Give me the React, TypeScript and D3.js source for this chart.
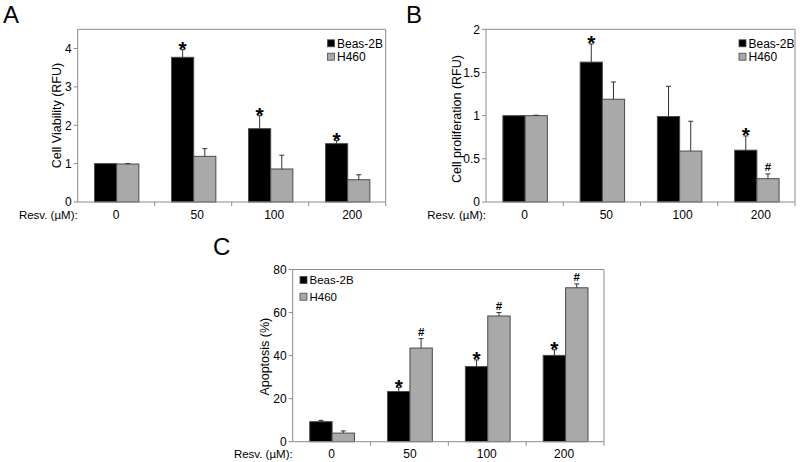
import React from 'react';
import * as d3 from 'd3';

// ---------- data ----------
const categories = ['0', '50', '100', '200'];
const seriesNames = ['Beas-2B', 'H460'];
const xAxisTitle = 'Resv. (µM):';

// Panel A: cell viability (RFU)
const viabilityBeas = [1.0, 3.77, 1.91, 1.52];
const viabilityBeasErr = [0.0, 0.2, 0.34, 0.08];
const viabilityH460 = [0.99, 1.19, 0.86, 0.58];
const viabilityH460Err = [0.01, 0.2, 0.36, 0.13];
const viabilityBeasMarks = ['', '*', '*', '*'];
const viabilityH460Marks = ['', '', '', ''];
const viabilityTicks = [0, 1, 2, 3, 4];

// Panel B: cell proliferation (RFU)
const prolifBeas = [1.0, 1.62, 0.99, 0.6];
const prolifBeasErr = [0.0, 0.21, 0.35, 0.165];
const prolifH460 = [1.0, 1.19, 0.59, 0.27];
const prolifH460Err = [0.005, 0.2, 0.345, 0.055];
const prolifBeasMarks = ['', '*', '', '*'];
const prolifH460Marks = ['', '', '', '#'];
const prolifTicks = [0, 0.5, 1, 1.5, 2];

// Panel C: apoptosis (%)
const apopBeas = [9.3, 23.3, 34.9, 40.1];
const apopBeasErr = [0.6, 1.9, 3.1, 2.6];
const apopH460 = [4.0, 43.5, 58.4, 71.5];
const apopH460Err = [1.0, 4.4, 1.6, 1.8];
const apopBeasMarks = ['', '*', '*', '*'];
const apopH460Marks = ['', '#', '#', '#'];
const apopTicks = [0, 20, 40, 60, 80];

// ---------- style ----------
const FONT = "'Liberation Sans', Arial, Helvetica, sans-serif";
const FILLS = ['#000000', '#a9a9a9'];
const OUTLINE = '#4a4a4a';
const FRAME = '#8c8c8c';
const ERR = '#333333';
const TEXT = '#000';

type Series = { values: number[]; errors: number[]; marks: string[] };

type PanelProps = {
  letter: string;
  letterX: number;
  letterY: number;
  left: number;
  top: number;
  right: number;
  bottom: number;
  yMax: number;
  yTicks: number[];
  yTitle: string;
  yTitleX: number;
  yTitleY: number;
  series: Series[];
  legendX: number;
  legendY: number;
  legendGap: number;
  legendFont: number;
  labelShift: number[];
};

function Panel(p: PanelProps) {
  const x = d3.scaleBand<string>().domain(categories).range([p.left, p.right]).padding(0);
  const y = d3.scaleLinear().domain([0, p.yMax]).range([p.bottom, p.top]);
  const bw = x.bandwidth();
  const groupW = bw * 0.575;
  const barW = groupW / 2;
  const fmt = (v: number) => String(v);

  return (
    <g>
      <text x={p.letterX} y={p.letterY} fontFamily={FONT} fontSize={24} fill={TEXT}>
        {p.letter}
      </text>
      {/* frame */}
      <line x1={p.left} x2={p.right} y1={p.top} y2={p.top} stroke={FRAME} />
      <line x1={p.right} x2={p.right} y1={p.top} y2={p.bottom} stroke={FRAME} />
      <line x1={p.left} x2={p.left} y1={p.top} y2={p.bottom} stroke={FRAME} />
      {/* y ticks */}
      {p.yTicks.map((t) => (
        <g key={'yt' + t}>
          <line x1={p.left - 4} x2={p.left} y1={y(t)} y2={y(t)} stroke={FRAME} />
          <text
            x={p.left - 6}
            y={y(t)}
            dy="0.36em"
            textAnchor="end"
            fontFamily={FONT}
            fontSize={12}
            fill={TEXT}
          >
            {fmt(t)}
          </text>
        </g>
      ))}
      <text
        transform={`translate(${p.yTitleX},${p.yTitleY}) rotate(-90)`}
        textAnchor="middle"
        dy="0.35em"
        fontFamily={FONT}
        fontSize={12.5}
        fill={TEXT}
      >
        {p.yTitle}
      </text>
      {/* bars */}
      {p.series.map((s, si) =>
        categories.map((c, ci) => {
          const x0 = (x(c) as number) + (bw - groupW) / 2 + 0.5 + si * barW;
          const v = s.values[ci];
          const e = s.errors[ci];
          const yTop = y(v);
          const yErr = y(v + e);
          const cx = x0 + barW / 2;
          const m = s.marks[ci];
          return (
            <g key={`b${si}-${ci}`}>
              <rect
                x={x0}
                y={yTop}
                width={barW}
                height={p.bottom - yTop}
                fill={FILLS[si]}
                stroke={OUTLINE}
                strokeWidth={1}
              />
              {e > 0 && (
                <g stroke={ERR} strokeWidth={1}>
                  <line x1={cx} x2={cx} y1={yTop} y2={yErr} />
                  <line x1={cx - 2.5} x2={cx + 2.5} y1={yErr} y2={yErr} />
                </g>
              )}
              {m === '*' && (
                <text
                  x={cx}
                  y={yErr + 6.5}
                  textAnchor="middle"
                  fontFamily={FONT}
                  fontWeight="bold"
                  fontSize={21}
                  fill={TEXT}
                >
                  *
                </text>
              )}
              {m === '#' && (
                <text
                  x={cx}
                  y={yErr - 2.5}
                  textAnchor="middle"
                  fontFamily={FONT}
                  fontWeight="bold"
                  fontSize={11.5}
                  fill={TEXT}
                >
                  #
                </text>
              )}
            </g>
          );
        })
      )}
      {/* x axis */}
      <line x1={p.left} x2={p.right} y1={p.bottom} y2={p.bottom} stroke={FRAME} />
      {categories.map((c) => (
        <line
          key={'xt' + c}
          x1={(x(c) as number) + bw}
          x2={(x(c) as number) + bw}
          y1={p.bottom}
          y2={p.bottom + 4}
          stroke={FRAME}
        />
      ))}
      <text
        x={p.left}
        y={p.bottom + 16.5}
        textAnchor="end"
        fontFamily={FONT}
        fontSize={11.5}
        fill={TEXT}
      >
        {xAxisTitle}
      </text>
      {categories.map((c, i) => (
        <text
          key={'xl' + c}
          x={(x(c) as number) + bw / 2 + p.labelShift[i]}
          y={p.bottom + 16.5}
          textAnchor="middle"
          fontFamily={FONT}
          fontSize={12}
          fill={TEXT}
        >
          {c}
        </text>
      ))}
      {/* legend */}
      {seriesNames.map((n, i) => (
        <g key={'lg' + n}>
          <rect
            x={p.legendX}
            y={p.legendY + i * p.legendGap - 3.5}
            width={7}
            height={7}
            fill={FILLS[i]}
            stroke={OUTLINE}
            strokeWidth={0.8}
          />
          <text
            x={p.legendX + 9.5}
            y={p.legendY + i * p.legendGap}
            dy="0.36em"
            fontFamily={FONT}
            fontSize={p.legendFont}
            fill={TEXT}
          >
            {n}
          </text>
        </g>
      ))}
    </g>
  );
}

export default function App() {
  return (
    <svg
      width={800}
      height={462}
      style={{ position: 'absolute', left: 0, top: 0, background: '#fff' }}
    >
      <rect width={800} height={462} fill="#fff" />
      <Panel
        letter="A"
        letterX={3}
        letterY={23}
        left={77.7}
        top={29.3}
        right={385.7}
        bottom={202}
        yMax={4.5}
        yTicks={viabilityTicks}
        yTitle="Cell Viability (RFU)"
        yTitleX={57}
        yTitleY={115.5}
        series={[
          { values: viabilityBeas, errors: viabilityBeasErr, marks: viabilityBeasMarks },
          { values: viabilityH460, errors: viabilityH460Err, marks: viabilityH460Marks },
        ]}
        legendX={327.5}
        legendY={43.3}
        legendGap={13.4}
        legendFont={12}
        labelShift={[0, 4, 4, 5]}
      />
      <Panel
        letter="B"
        letterX={406}
        letterY={23}
        left={486}
        top={29.3}
        right={795}
        bottom={202}
        yMax={2}
        yTicks={prolifTicks}
        yTitle="Cell proliferation (RFU)"
        yTitleX={457}
        yTitleY={119}
        series={[
          { values: prolifBeas, errors: prolifBeasErr, marks: prolifBeasMarks },
          { values: prolifH460, errors: prolifH460Err, marks: prolifH460Marks },
        ]}
        legendX={739}
        legendY={43.3}
        legendGap={13.4}
        legendFont={12}
        labelShift={[0, 4.5, 3.5, 4.5]}
      />
      <Panel
        letter="C"
        letterX={213}
        letterY={255}
        left={292.7}
        top={269.5}
        right={604}
        bottom={441.7}
        yMax={80}
        yTicks={apopTicks}
        yTitle="Apoptosis (%)"
        yTitleX={265}
        yTitleY={356.7}
        series={[
          { values: apopBeas, errors: apopBeasErr, marks: apopBeasMarks },
          { values: apopH460, errors: apopH460Err, marks: apopH460Marks },
        ]}
        legendX={300}
        legendY={280}
        legendGap={16.7}
        legendFont={11.5}
        labelShift={[0, 0.5, -0.5, -1]}
      />
    </svg>
  );
}
